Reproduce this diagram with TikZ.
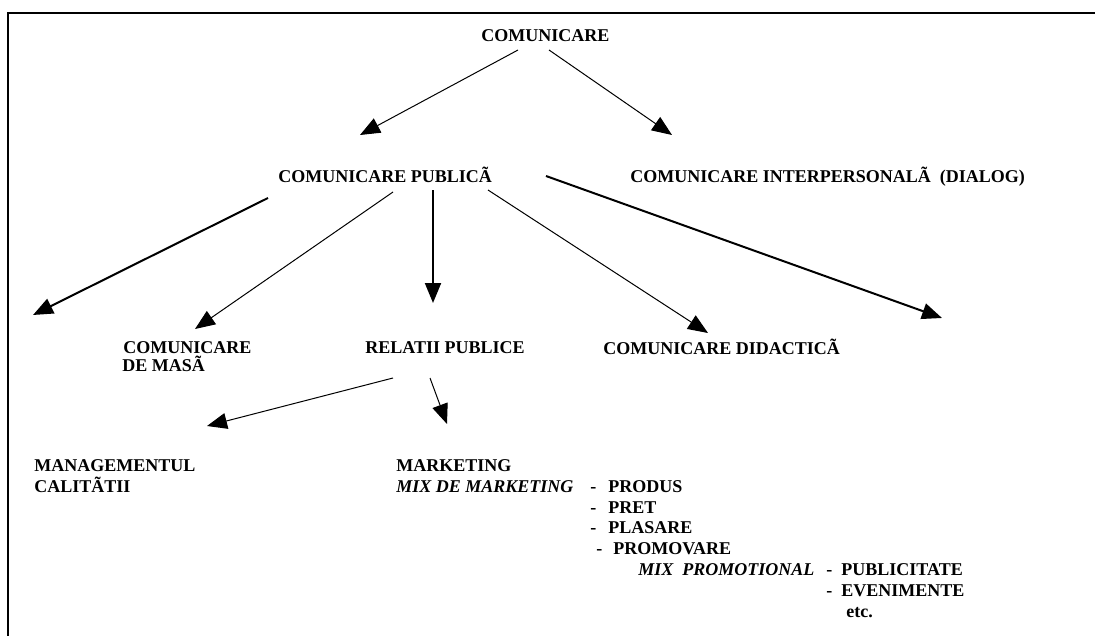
\documentclass[tikz,border=0pt]{standalone}
\usepackage{fontspec}
\setmainfont{Liberation Serif}
\usetikzlibrary{arrows.meta,calc}

\begin{document}
\begin{tikzpicture}[x=0.5pt, y=-0.5pt,
        lbl/.style={anchor=base west, inner sep=0pt, font=\fontsize{9}{11}\selectfont\bfseries},
        ilbl/.style={lbl, font=\fontsize{9}{11}\selectfont\bfseries\itshape},
        thinarr/.style={-{Triangle[length=10pt,width=8pt]}, line width=0.5pt},
        thickarr/.style={-{Triangle[length=10pt,width=8pt]}, line width=1pt}]
        \useasboundingbox (0, 0) rectangle (1095, 636);
        \draw [line width=1.2pt] (1095, 13) -- (8, 13) -- (8, 636);
        \node [lbl] (com) at (481, 42) {COMUNICARE};
        \node [lbl] (pub) at (278, 183) {COMUNICARE PUBLICÃ};
        \node [lbl] (inter) at (630, 183) {COMUNICARE INTERPERSONALÃ\ \ (DIALOG)};
        \node [lbl] (masa) at (123, 353) {COMUNICARE};
        \node [lbl] (masab) at (122, 371) {DE MASÃ};
        \node [lbl] (rel) at (365, 353) {RELATII PUBLICE};
        \node [lbl] (did) at (603, 354) {COMUNICARE DIDACTICÃ};
        \node [lbl] (man) at (34, 471) {MANAGEMENTUL};
        \node [lbl] (cal) at (34, 492) {CALITÃTII};
        \node [lbl] (mkt) at (396, 471) {MARKETING};
        \node [ilbl] (mixm) at (396, 492) {MIX DE MARKETING};
        \node [lbl] (dprodus) at (590, 492) {-};
        \node [lbl] (produs) at (608, 492) {PRODUS};
        \node [lbl] (dpret) at (590, 513) {-};
        \node [lbl] (pret) at (608, 513) {PRET};
        \node [lbl] (dplasare) at (590, 533) {-};
        \node [lbl] (plasare) at (608, 533) {PLASARE};
        \node [lbl] (dpromo) at (596, 554) {-};
        \node [lbl] (promo) at (613, 554) {PROMOVARE};
        \node [ilbl] (mixp) at (638, 575) {MIX\ \ PROMOTIONAL};
        \node [lbl] (dpubl) at (826, 575) {-};
        \node [lbl] (publ) at (841, 575) {PUBLICITATE};
        \node [lbl] (deven) at (826, 596) {-};
        \node [lbl] (even) at (841, 596) {EVENIMENTE};
        \node [lbl] (etc) at (846, 617) {etc.};
        \draw [thinarr] ($(com.base west)+(37,8)$) -- ($(pub.base west)+(82,-48)$);
        \draw [thinarr] ($(com.base west)+(68,8)$) -- ($(inter.base west)+(42,-48)$);
        \draw [thickarr] ($(pub.base west)+(-10,15)$) -- ($(masa.base west)+(-90,-38)$);
        \draw [thinarr] ($(pub.base west)+(115,9)$) -- ($(masa.base west)+(72,-24)$);
        \draw [thickarr] ($(pub.base west)+(155,7)$) -- ($(rel.base west)+(68,-50)$);
        \draw [thinarr] ($(pub.base west)+(210,7)$) -- ($(did.base west)+(105,-21)$);
        \draw [thickarr] ($(pub.base west)+(268,-7)$) -- ($(did.base west)+(339,-36)$);
        \draw [thinarr] ($(rel.base west)+(28,25)$) -- ($(man.base west)+(173,-45)$);
        \draw [thinarr] ($(rel.base west)+(65,25)$) -- ($(mkt.base west)+(51,-47)$);
    \end{tikzpicture}
\end{document}
